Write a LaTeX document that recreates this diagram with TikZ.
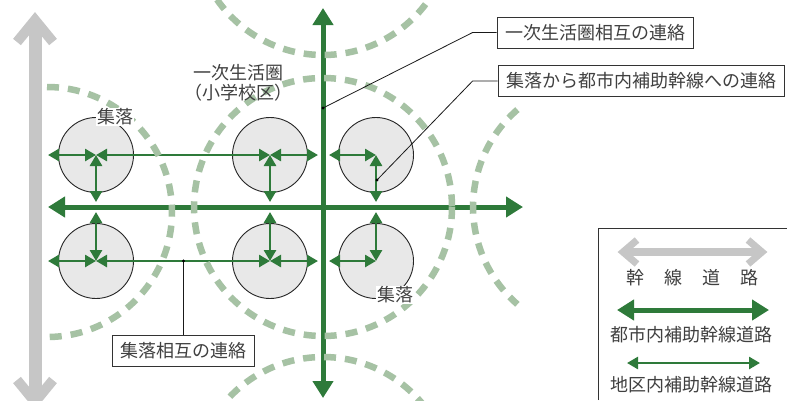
\documentclass[tikz,border=0pt]{standalone}
\usepackage{fontspec}
\setmainfont{Noto Sans CJK JP}
\usetikzlibrary{arrows.meta}
\definecolor{trunk}{RGB}{198,198,198}
\definecolor{zone}{RGB}{166,194,164}
\definecolor{road}{RGB}{46,122,58}
\definecolor{vill}{RGB}{232,232,232}
\definecolor{txt}{RGB}{64,64,64}
\begin{document}
\begin{tikzpicture}[x=1pt,y=-1pt,
  font=\fontsize{18}{20}\selectfont, text=txt,
  zonecurve/.style={draw=zone, line width=6.5pt, dash pattern=on 12pt off 9pt},
  village/.style={circle, draw=black!85, line width=0.9pt, fill=vill, minimum size=75pt, inner sep=0pt},
  mainroad/.style={draw=road, line width=5pt, arrows={Triangle[length=17pt,width=20pt]-Triangle[length=17pt,width=20pt]}},
  localroad/.style={draw=road, line width=2.6pt, arrows={Triangle[length=11pt,width=12pt]-Triangle[length=11pt,width=12pt]}},
  trunkshaft/.style={draw=trunk, line width=13pt},
  trunkhead/.style={draw=trunk, line width=10pt, miter limit=10},
  legshaft/.style={draw=trunk, line width=8pt},
  leghead/.style={draw=trunk, line width=7pt, miter limit=10},
  callout/.style={draw=black!80, line width=0.8pt, fill=white, inner xsep=8pt, inner ysep=0pt, minimum height=31pt},
  leader/.style={draw=black!90, line width=0.8pt},
  tag/.style={fill=white, inner sep=1pt},
  legtext/.style={inner sep=0pt},
]
\useasboundingbox (0,0) rectangle (787,400);
\clip (0,0) rectangle (787,400);
\fill[white] (0,0) rectangle (787,400);

% trunk road (gray)
\draw[trunkshaft] (35,25) -- (35,396);
\draw[trunkhead] (17,42) -- (35,20) -- (53,42);
\draw[trunkhead] (17,380) -- (35,402) -- (53,380);

% villages
\node[village] (v1) at (96,155) {};
\node[village] (v2) at (270,155) {};
\node[village] (v3) at (376,155) {};
\node[village] (v4) at (96,261) {};
\node[village] (v5) at (270,261) {};
\node[village] (v6) at (376,261) {};

% main roads
\coordinate (mN) at (323,8);
\coordinate (mS) at (323,398);
\coordinate (mW) at (48,207);
\coordinate (mE) at (523,207);
\draw[mainroad] (mN) -- (mS);
\draw[mainroad] (mW) -- (mE);

% local roads, row 1
\coordinate (w1) at (48,155);
\coordinate (e1a) at (318,155);
\coordinate (e1b) at (329,155);
\draw[localroad] (w1) -- (v1.center);
\draw[localroad] (v1.center) -- (v2.center);
\draw[localroad] (v2.center) -- (e1a);
\draw[localroad] (e1b) -- (v3.center);
% local roads, row 2
\coordinate (w2) at (48,261);
\coordinate (e2a) at (318,261);
\coordinate (e2b) at (329,261);
\draw[localroad] (w2) -- (v4.center);
\draw[localroad] (v4.center) -- (v5.center);
\draw[localroad] (v5.center) -- (e2a);
\draw[localroad] (e2b) -- (v6.center);
% links to the main horizontal road
\coordinate (d1) at (96,202);
\coordinate (d2) at (270,202);
\coordinate (d3) at (376,202);
\coordinate (u4) at (96,212);
\coordinate (u5) at (270,212);
\coordinate (u6) at (376,212);
\draw[localroad] (v1.center) -- (d1);
\draw[localroad] (v2.center) -- (d2);
\draw[localroad] (v3.center) -- (d3);
\draw[localroad] (u4) -- (v4.center);
\draw[localroad] (u5) -- (v5.center);
\draw[localroad] (u6) -- (v6.center);

% primary living spheres (dashed)
\draw[zonecurve] (47,87) arc[start angle=-90, end angle=90, radius=125];
\draw[zonecurve] (323,207) circle[radius=129];
\draw[zonecurve] (323,-74) circle[radius=129];
\draw[zonecurve] (323,486) circle[radius=129];
\draw[zonecurve] (517.4,109.6) arc[start angle=229, end angle=131, radius=129];

% labels
\node[tag] (l1) at (115,117) {集落};
\node[tag] (l2) at (395,295) {集落};
\node[align=center, inner sep=0pt] (zl) at (238,83) {一次生活圏\\（小学校区）};

% callouts
\node[callout] (c1) at (595,32.5) {一次生活圏相互の連絡};
\coordinate (p1) at (323,108);
\draw[leader] (c1.west) -- ++(-24,0) -- (p1);
\fill[black] (p1) circle[radius=1.6];

\node[callout] (c2) at (641,81) {集落から都市内補助幹線への連絡};
\coordinate (p2) at (377,180);
\draw[leader] (c2.west) -- ++(-25,0) -- (p2);
\fill[black] (p2) circle[radius=1.6];

\node[callout] (c3) at (183.5,351) {集落相互の連絡};
\coordinate (p3) at (183.5,261);
\draw[leader] (p3) -- (c3.north);
\fill[black] (p3) circle[radius=1.6];

% legend
\draw[black!80, line width=0.8pt] (598,400) |- (787,228);
\draw[legshaft] (627,252) -- (758,252);
\draw[leghead] (637,240) -- (623,252) -- (637,264);
\draw[leghead] (748,240) -- (762,252) -- (748,264);
\node[legtext] (lg1) at (692,278) {幹\hspace{20pt}線\hspace{20pt}道\hspace{20pt}路};
\coordinate (la) at (617,310);
\coordinate (lb) at (769,310);
\draw[mainroad] (la) -- (lb);
\node[legtext] (lg2) at (691,335) {都市内補助幹線道路};
\coordinate (lc) at (627,363);
\coordinate (ld) at (760,363);
\draw[localroad] (lc) -- (ld);
\node[legtext] (lg3) at (691,385) {地区内補助幹線道路};
\end{tikzpicture}
\end{document}
